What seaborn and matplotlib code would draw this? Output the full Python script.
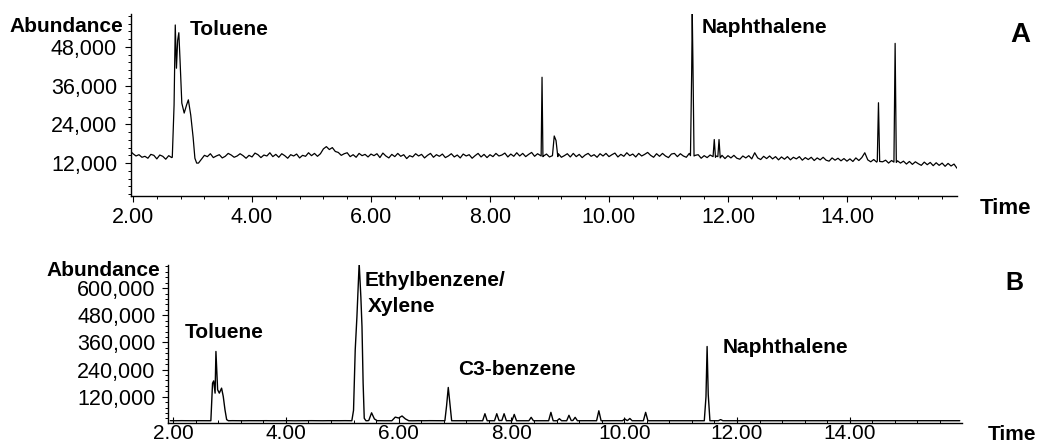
import numpy as np
import pandas as pd
import matplotlib
matplotlib.use("Agg")
import matplotlib.pyplot as plt
from matplotlib.ticker import MultipleLocator, FuncFormatter
import seaborn as sns

# Chromatogram A: baseline sampled every 0.05 min (abundance in thousands)
a_start, a_step = 1.95, 0.05
a_base = [
    15.8, 14.9, 14.2, 14.6, 13.8, 14.1, 13.5, 14.7, 14.4, 13.3,
    14.5, 14.1, 13.2, 14.3, 13.7, 14.0, 14.0, 14.0, 14.0, 14.0,
    14.0, 14.0, 14.0, 12.0, 13.2, 14.4, 14.0, 14.9, 13.7, 14.2,
    14.6, 13.6, 14.1, 15.0, 14.5, 13.8, 14.2, 14.9, 14.3, 13.5,
    14.4, 13.9, 15.1, 14.6, 13.7, 14.5, 14.2, 15.2, 14.0, 14.7,
    13.8, 14.9, 14.3, 13.5, 14.6, 14.2, 14.8, 13.6, 14.4, 14.1,
    15.2, 14.3, 15.0, 14.1, 14.9, 16.4, 17.1, 16.2, 16.8, 15.6,
    15.3, 14.4, 14.9, 15.2, 14.0, 14.6, 13.8, 15.0, 14.3, 14.7,
    13.9, 14.8, 14.3, 14.9, 13.7, 15.1, 14.2, 13.6, 14.7, 14.0,
    15.0, 14.1, 14.6, 13.4, 14.3, 13.9, 14.9, 14.2, 14.7, 13.6,
    14.4, 15.0, 13.8, 14.6, 14.1, 14.8, 13.7, 14.2, 14.9, 13.9,
    14.5, 13.6, 14.8, 14.2, 14.6, 13.5, 14.3, 15.0, 13.9, 14.7,
    13.7, 14.6, 14.0, 15.0, 14.2, 14.5, 15.1, 13.9, 14.8, 14.1,
    15.2, 14.2, 15.0, 14.0, 14.7, 15.3, 14.1, 14.9, 14.3, 14.2,
    14.8, 13.9, 14.6, 14.1, 14.9, 13.8, 14.3, 14.9, 13.9, 15.0,
    14.0, 14.7, 13.7, 14.5, 15.0, 14.1, 14.6, 13.8, 14.9, 14.2,
    15.0, 14.0, 14.6, 15.1, 13.9, 14.7, 14.1, 15.2, 14.3, 14.8,
    13.9, 15.0, 14.2, 14.7, 15.3, 14.4, 13.8, 14.9, 14.1, 15.0,
    14.2, 13.7, 14.8, 15.0, 14.0, 14.9, 14.2, 13.8, 15.0, 14.4,
    14.4, 14.6, 13.5, 14.3, 13.7, 14.5, 13.4, 14.2, 13.3, 14.4,
    13.4, 14.3, 13.6, 14.4, 13.5, 13.2, 14.2, 13.6, 14.3, 13.3,
    15.2, 13.6, 13.1, 14.1, 13.4, 14.2, 13.3, 14.0, 13.0, 13.9,
    13.2, 14.0, 13.0, 13.8, 13.3, 14.0, 12.9, 13.7, 13.1, 13.8,
    12.8, 13.6, 13.0, 13.8, 12.9, 12.6, 13.6, 12.9, 13.5, 12.7,
    13.4, 12.6, 13.3, 12.5, 13.6, 12.8, 13.7, 15.2, 13.0, 12.4,
    13.1, 12.3, 13.0, 12.4, 12.9, 12.0, 12.8, 11.9, 12.7, 12.0,
    12.6, 11.7, 12.5, 11.6, 12.4, 11.8, 11.3, 12.3, 11.5, 12.2,
    11.2, 12.1, 11.3, 12.0, 11.0, 11.9, 11.1, 11.7, 10.4,
]
# peaks in A as (time, abundance in thousands)
a_peaks = [
    [(2.66, 13.8), (2.69, 30.0), (2.71, 54.8), (2.73, 41.4), (2.75, 50.0),
     (2.77, 52.4), (2.79, 44.0), (2.82, 30.6), (2.86, 27.5), (2.90, 30.0),
     (2.93, 31.6), (2.97, 26.9), (3.01, 20.0), (3.04, 13.5), (3.07, 12.0)],
    [(8.86, 14.2), (8.875, 38.6), (8.89, 14.0)],
    [(9.05, 14.3), (9.08, 20.4), (9.11, 19.0), (9.14, 14.0)],
    [(11.37, 14.3), (11.39, 40.0), (11.40, 58.5), (11.41, 45.0), (11.43, 14.2)],
    [(11.75, 14.0), (11.77, 19.3), (11.79, 13.8)],
    [(11.83, 14.0), (11.85, 19.3), (11.87, 13.6)],
    [(14.51, 12.6), (14.53, 30.7), (14.55, 12.5)],
    [(14.79, 12.3), (14.81, 49.1), (14.83, 12.2)],
]

# Chromatogram B: baseline sampled every 0.1 min (abundance in thousands)
b_start, b_step = 1.95, 0.1
b_base = [
    14.2, 14.0, 14.3, 14.1, 13.9, 14.2, 14.0, 14.1, 13.8, 14.2,
    14.0, 14.3, 14.1, 13.9, 14.2, 14.0, 14.1, 14.3, 13.9, 14.1,
    14.0, 14.2, 13.8, 14.1, 14.0, 14.3, 14.1, 13.9, 14.2, 14.0,
    14.1, 14.3, 14.0, 13.9, 14.2, 14.1, 14.0, 14.3, 13.9, 14.1,
    14.2, 14.0, 14.1, 13.8, 14.2, 14.0, 14.3, 14.1, 13.9, 14.2,
    14.0, 14.1, 14.3, 13.9, 14.1, 14.0, 14.2, 13.8, 14.1, 14.0,
    14.3, 14.1, 13.9, 14.2, 14.0, 14.1, 14.3, 14.0, 13.9, 14.2,
    14.1, 14.0, 14.3, 13.9, 14.1, 14.2, 14.0, 14.1, 13.8, 14.2,
    14.0, 14.3, 14.1, 13.9, 14.2, 14.0, 14.1, 14.3, 13.9, 14.1,
    14.0, 14.2, 13.8, 14.1, 14.0, 14.3, 14.1, 13.9, 14.2, 14.0,
    14.1, 14.3, 14.0, 13.9, 14.2, 14.1, 14.0, 14.3, 13.9, 14.1,
    14.2, 14.0, 14.1, 13.8, 14.2, 14.0, 14.3, 14.1, 13.9, 14.2,
    14.0, 14.1, 14.3, 13.9, 14.1, 14.0, 14.2, 13.8, 14.1, 14.0,
    14.3, 14.1, 13.9, 14.2, 14.0, 14.1, 14.3, 14.0, 13.9, 14.2,
    14.1,
]
b_peaks = [
    [(2.67, 14), (2.69, 120), (2.70, 180), (2.72, 190), (2.745, 136), (2.76, 320),
     (2.79, 151), (2.82, 136), (2.86, 158), (2.89, 121), (2.92, 63), (2.95, 19), (2.98, 14)],
    [(5.17, 14), (5.20, 60), (5.23, 327), (5.26, 473), (5.30, 710), (5.33, 560),
     (5.35, 430), (5.37, 181), (5.39, 25), (5.42, 14)],
    [(5.47, 15), (5.52, 49), (5.57, 22), (5.62, 14)],
    [(5.88, 14), (5.94, 30), (6.00, 26), (6.06, 35), (6.12, 22), (6.18, 14)],
    [(6.82, 14), (6.85, 80), (6.88, 161), (6.91, 85), (6.94, 14)],
    [(7.49, 14), (7.53, 45), (7.57, 14)],
    [(7.70, 14), (7.74, 45), (7.78, 15)],
    [(7.83, 15), (7.87, 45), (7.91, 14)],
    [(8.01, 14), (8.05, 42), (8.09, 14)],
    [(8.31, 14), (8.35, 29), (8.39, 14)],
    [(8.66, 14), (8.70, 51), (8.74, 14)],
    [(8.81, 14), (8.85, 23), (8.89, 14)],
    [(8.98, 14), (9.02, 38), (9.06, 15)],
    [(9.09, 15), (9.13, 29), (9.17, 14)],
    [(9.51, 14), (9.55, 58), (9.59, 14)],
    [(9.97, 14), (10.01, 22), (10.05, 15)],
    [(10.06, 15), (10.10, 24), (10.14, 14)],
    [(10.34, 14), (10.38, 51), (10.42, 14)],
    [(11.42, 14), (11.45, 120), (11.47, 342), (11.49, 130), (11.52, 14)],
    [(11.67, 14), (11.71, 19), (11.75, 14)],
]


def build(start, step, base, peaks):
    t = start + step * np.arange(len(base))
    v = np.array(base, dtype=float)
    keep = np.ones(len(t), dtype=bool)
    for pk in peaks:
        keep &= ~((t >= pk[0][0] - 1e-9) & (t <= pk[-1][0] + 1e-9))
    times = list(t[keep])
    vals = list(v[keep])
    for pk in peaks:
        times += [p[0] for p in pk]
        vals += [p[1] for p in pk]
    df = pd.DataFrame({"time": times, "abundance": np.array(vals) * 1000})
    return df.sort_values("time").reset_index(drop=True)


df_a = build(a_start, a_step, a_base, a_peaks)
df_b = build(b_start, b_step, b_base, b_peaks)

sns.set_theme(style="ticks")
plt.rcParams["font.family"] = ["Liberation Sans", "DejaVu Sans"]
plt.rcParams["text.color"] = "black"
plt.rcParams["xtick.color"] = "black"
plt.rcParams["ytick.color"] = "black"

W, H = 1040, 447
fig = plt.figure(figsize=(W / 100, H / 100), dpi=100)


def px_axes(left, top, right, bottom):
    return fig.add_axes([left / W, 1 - bottom / H, (right - left) / W, (bottom - top) / H])


def fig_text(x, y, s, **kw):
    fig.text(x / W, 1 - y / H, s, **kw)


bold = dict(fontweight="bold", fontsize=15)
tick_size = 15.5

# ---- panel A ----
ax_a = px_axes(131, 14, 957, 196)
sns.lineplot(data=df_a, x="time", y="abundance", ax=ax_a, color="black",
             linewidth=0.9, estimator=None)
ax_a.set_xlim(1.966, 15.85)
ax_a.set_ylim(1800, 58200)
ax_a.yaxis.set_major_locator(MultipleLocator(12000))
ax_a.yaxis.set_minor_locator(MultipleLocator(2400))
ax_a.xaxis.set_major_locator(MultipleLocator(2))
ax_a.xaxis.set_minor_locator(MultipleLocator(0.4))
ax_a.tick_params(axis="both", which="major", direction="out", length=4, width=0.8, labelsize=tick_size)
ax_a.tick_params(axis="both", which="minor", direction="out", length=2.5, width=0.7)
ax_a.tick_params(axis="y", pad=6)
ax_a.tick_params(axis="x", pad=4)
ax_a.text(2.96, 53300, "Toluene", ha="left", va="center", **bold)
ax_a.text(11.56, 53900, "Naphthalene", ha="left", va="center", **bold)

# ---- panel B ----
ax_b = px_axes(168, 265, 962, 423)
sns.lineplot(data=df_b, x="time", y="abundance", ax=ax_b, color="black",
             linewidth=1.0, estimator=None)
ax_b.set_xlim(1.91, 15.99)
ax_b.set_ylim(4000, 702000)
ax_b.yaxis.set_major_locator(MultipleLocator(120000))
ax_b.yaxis.set_minor_locator(MultipleLocator(24000))
ax_b.xaxis.set_major_locator(MultipleLocator(2))
ax_b.xaxis.set_minor_locator(MultipleLocator(0.4))
ax_b.tick_params(axis="y", which="major", direction="out", length=4, width=0.8, labelsize=tick_size, pad=5)
ax_b.tick_params(axis="y", which="minor", direction="out", length=2.5, width=0.7)
ax_b.tick_params(axis="x", which="major", direction="in", length=4, width=0.8, labelsize=15, pad=0.5)
ax_b.tick_params(axis="x", which="minor", direction="in", length=2.5, width=0.7)
ax_b.text(2.21, 401800, "Toluene", ha="left", va="center", **bold)
ax_b.text(5.40, 635000, "Ethylbenzene/", ha="left", va="center", **bold)
ax_b.text(5.46, 520700, "Xylene", ha="left", va="center", **bold)
ax_b.text(7.05, 239000, "C3-benzene", ha="left", va="center", **bold)
ax_b.text(11.75, 336000, "Naphthalene", ha="left", va="center", **bold)

for ax in (ax_a, ax_b):
    ax.set_xlabel("")
    ax.set_ylabel("")
    ax.xaxis.set_major_formatter(FuncFormatter(lambda v, p: f"{v:.2f}"))
    ax.yaxis.set_major_formatter(FuncFormatter(lambda v, p: f"{v:,.0f}"))
    sns.despine(ax=ax)
    for s in ("left", "bottom"):
        ax.spines[s].set_linewidth(1.0)
        ax.spines[s].set_color("black")

# axis titles and panel letters
fig_text(123, 26, "Abundance", ha="right", va="center", **bold)
fig_text(980, 209, "Time", ha="left", va="center", fontweight="bold", fontsize=16)
fig_text(1020, 35, "A", ha="center", va="center", fontweight="bold", fontsize=20)
fig_text(160, 270, "Abundance", ha="right", va="center", **bold)
fig_text(988, 435, "Time", ha="left", va="center", fontweight="bold", fontsize=15)
fig_text(1014, 283, "B", ha="center", va="center", fontweight="bold", fontsize=18)

fig.savefig("out.png", dpi=100, facecolor="white")
